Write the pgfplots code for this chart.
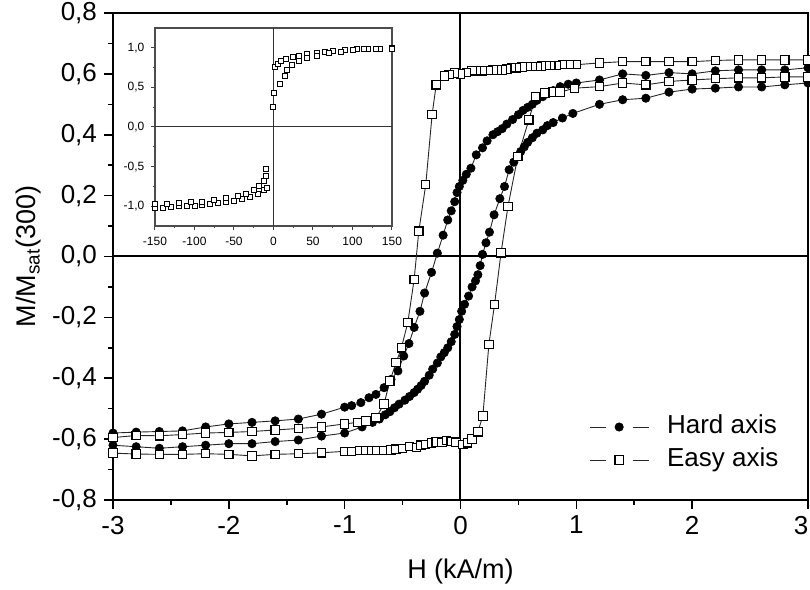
\documentclass[border=0pt]{standalone}
\usepackage{pgfplots}
\pgfplotsset{compat=1.18}
\usepackage{fontspec}
\setmainfont{Liberation Sans}

% Hard axis, field swept from +3 to -3 kA/m
\pgfplotstableread{
H M
3.0 0.620
2.8 0.613
2.6 0.613
2.4 0.613
2.2 0.610
2.0 0.600
1.8 0.604
1.6 0.595
1.4 0.600
1.2 0.580
1.0 0.570
0.93 0.566
0.86 0.558
0.80 0.545
0.75 0.535
0.71 0.525
0.66 0.513
0.62 0.500
0.58 0.490
0.54 0.480
0.50 0.466
0.45 0.450
0.40 0.435
0.36 0.420
0.32 0.410
0.28 0.400
0.23 0.380
0.19 0.357
0.136 0.334
0.09 0.290
0.05 0.270
0.02 0.250
-0.01 0.230
-0.03 0.210
-0.05 0.180
-0.08 0.150
-0.11 0.120
-0.15 0.070
-0.20 0.011
-0.25 -0.052
-0.31 -0.120
-0.35 -0.180
-0.40 -0.233
-0.445 -0.286
-0.49 -0.327
-0.54 -0.376
-0.60 -0.404
-0.66 -0.431
-0.73 -0.453
-0.79 -0.464
-0.86 -0.480
-0.94 -0.490
-1.0 -0.495
-1.2 -0.518
-1.4 -0.534
-1.6 -0.540
-1.8 -0.545
-2.0 -0.550
-2.2 -0.560
-2.4 -0.573
-2.6 -0.575
-2.8 -0.577
-3.0 -0.580
}\harddown

% Hard axis, field swept from -3 to +3 kA/m
\pgfplotstableread{
H M
-3.0 -0.620
-2.8 -0.625
-2.6 -0.630
-2.4 -0.625
-2.2 -0.620
-2.0 -0.615
-1.8 -0.615
-1.6 -0.608
-1.4 -0.603
-1.2 -0.590
-1.0 -0.580
-0.85 -0.560
-0.76 -0.545
-0.70 -0.534
-0.65 -0.520
-0.61 -0.510
-0.57 -0.497
-0.53 -0.485
-0.48 -0.472
-0.44 -0.460
-0.40 -0.447
-0.37 -0.436
-0.34 -0.424
-0.31 -0.410
-0.27 -0.390
-0.24 -0.370
-0.20 -0.350
-0.17 -0.330
-0.14 -0.316
-0.11 -0.300
-0.08 -0.280
-0.05 -0.256
-0.03 -0.230
-0.01 -0.207
0.01 -0.180
0.035 -0.157
0.07 -0.130
0.10 -0.100
0.13 -0.080
0.15 -0.060
0.17 -0.030
0.19 0.007
0.22 0.045
0.25 0.080
0.29 0.137
0.34 0.190
0.38 0.230
0.42 0.285
0.46 0.310
0.49 0.330
0.52 0.345
0.55 0.360
0.58 0.375
0.62 0.390
0.66 0.405
0.71 0.416
0.75 0.430
0.80 0.440
0.88 0.455
0.97 0.470
1.2 0.500
1.4 0.515
1.6 0.520
1.8 0.540
2.0 0.550
2.2 0.553
2.4 0.557
2.6 0.557
2.8 0.564
3.0 0.570
}\hardup

% Easy axis, field swept from +3 to -3 kA/m
\pgfplotstableread{
H M
3.0 0.646
2.8 0.646
2.6 0.646
2.4 0.646
2.2 0.644
2.0 0.640
1.8 0.640
1.6 0.640
1.4 0.640
1.2 0.636
1.0 0.630
0.94 0.630
0.88 0.630
0.83 0.628
0.78 0.628
0.74 0.627
0.70 0.626
0.66 0.625
0.62 0.625
0.58 0.624
0.53 0.623
0.48 0.620
0.44 0.620
0.40 0.616
0.36 0.613
0.32 0.613
0.28 0.613
0.24 0.611
0.19 0.610
0.14 0.610
0.10 0.610
0.05 0.605
0.0 0.600
-0.05 0.603
-0.10 0.598
-0.14 0.593
-0.21 0.564
-0.245 0.466
-0.30 0.236
-0.36 0.083
-0.40 -0.075
-0.455 -0.217
-0.51 -0.300
-0.556 -0.349
-0.61 -0.409
-0.66 -0.485
-0.73 -0.530
-0.815 -0.540
-0.89 -0.545
-1.0 -0.550
-1.2 -0.560
-1.4 -0.565
-1.6 -0.570
-1.8 -0.575
-2.0 -0.578
-2.2 -0.580
-2.4 -0.585
-2.6 -0.589
-2.8 -0.588
-3.0 -0.595
}\easydown

% Easy axis, field swept from -3 to +3 kA/m
\pgfplotstableread{
H M
-3.0 -0.646
-2.8 -0.649
-2.6 -0.650
-2.4 -0.650
-2.2 -0.648
-2.0 -0.650
-1.8 -0.655
-1.6 -0.650
-1.4 -0.648
-1.2 -0.645
-1.0 -0.640
-0.94 -0.640
-0.87 -0.638
-0.82 -0.638
-0.77 -0.638
-0.72 -0.638
-0.66 -0.638
-0.60 -0.636
-0.556 -0.633
-0.50 -0.630
-0.44 -0.625
-0.38 -0.628
-0.34 -0.620
-0.30 -0.617
-0.25 -0.613
-0.21 -0.609
-0.16 -0.610
-0.12 -0.605
-0.08 -0.607
-0.04 -0.610
0.02 -0.617
0.06 -0.612
0.10 -0.600
0.15 -0.576
0.193 -0.524
0.245 -0.289
0.294 -0.157
0.35 0.012
0.41 0.165
0.495 0.329
0.59 0.449
0.65 0.526
0.73 0.537
0.80 0.540
0.86 0.540
0.985 0.553
1.2 0.558
1.4 0.570
1.6 0.564
1.8 0.575
2.0 0.580
2.2 0.584
2.4 0.587
2.6 0.587
2.8 0.590
3.0 0.590
}\easyup

% Inset: wide-field easy-axis loop, four runs of points
\pgfplotstableread{
H M
2 0.76
5 0.80
10 0.84
16 0.86
24 0.88
32 0.90
42 0.92
55 0.94
65 0.95
75 0.96
90 0.97
105 0.98
120 0.99
135 0.99
150 1.00
}\insetA
\pgfplotstableread{
H M
-1 0.25
0 0.43
8 0.54
15 0.65
17 0.72
23 0.78
32 0.84
42 0.87
55 0.90
70 0.93
85 0.95
100 0.97
115 0.98
130 0.99
150 0.99
}\insetB
\pgfplotstableread{
H M
-150 -1.02
-140 -1.02
-130 -1.01
-120 -1.00
-110 -1.00
-100 -0.99
-90 -0.98
-80 -0.97
-70 -0.96
-60 -0.94
-50 -0.93
-40 -0.91
-30 -0.88
-20 -0.84
-12 -0.80
-8 -0.77
}\insetC
\pgfplotstableread{
H M
-150 -0.97
-135 -0.97
-120 -0.96
-105 -0.95
-90 -0.94
-75 -0.92
-60 -0.90
-45 -0.87
-35 -0.84
-25 -0.79
-18 -0.74
-12 -0.68
-10 -0.62
-9 -0.53
}\insetD

\pgfplotsset{
  hardstyle/.style={black!85, line width=0.45pt, mark=*, mark size=2.1pt,
    mark options={solid, fill=black, draw=black, line width=0.3pt}},
  easystyle/.style={black!85, line width=0.45pt, mark=square*, mark size=2.1pt,
    mark options={solid, fill=white, draw=black, line width=0.55pt}},
  insetmarks/.style={only marks, mark=square*, mark size=1.25pt,
    mark options={fill=white, draw=black, line width=0.4pt}},
}

\begin{document}
\begin{tikzpicture}
\useasboundingbox (-56.5pt,-45pt) rectangle (348.5pt,250pt);
\begin{axis}[
  scale only axis, width=347.5pt, height=243.5pt,
  xmin=-3, xmax=3, ymin=-0.8, ymax=0.8,
  xtick={-3,-2,-1,0,1,2},
  extra x ticks={3},
  extra x tick style={xticklabel style={xshift=-3.5pt}},
  ytick={-0.8,-0.6,-0.4,-0.2,0,0.2,0.4,0.6,0.8},
  minor x tick num=1, minor y tick num=1,
  tick pos=left, tick align=outside,
  major tick length=4.5pt, minor tick length=2.5pt,
  every tick/.style={black, line width=0.8pt},
  axis line style={line width=1.2pt},
  /pgf/number format/assume math mode=true,
  ticklabel style={font=\fontsize{13}{15}\selectfont},
  yticklabel style={/pgf/number format/.cd, fixed, fixed zerofill, precision=1, use comma},
  xlabel={H (kA/m)},
  ylabel={M/M\textsubscript{sat}(300)},
  label style={font=\fontsize{13.5}{16}\selectfont},
  xlabel style={at={(axis description cs:0.5,-0.146)}, anchor=center},
  ylabel style={at={(axis description cs:-0.122,0.5)}, anchor=center},
  legend style={at={(axis description cs:0.676,0.116)}, anchor=west,
    draw=none, fill=none, font=\fontsize{13}{15}\selectfont,
    row sep=4.5pt, column sep=9pt,
    nodes={inner sep=0pt, text height=9pt, text depth=3pt}},
  legend cell align=left,
  legend image code/.code={%
    \draw[#1, mark=none] (0pt,0pt) -- (8pt,0pt);
    \draw[#1, mark=none] (21.5pt,0pt) -- (29.5pt,0pt);
    \draw[#1, only marks] plot coordinates {(14.75pt,0pt)};
  },
  clip=false,
]
\draw[line width=1pt] (axis cs:0,-0.8) -- (axis cs:0,0.8);
\draw[line width=1pt] (axis cs:-3,0) -- (axis cs:3,0);
\addplot[hardstyle] table[x=H,y=M] {\harddown};
\addlegendentry{Hard axis}
\addplot[hardstyle, forget plot] table[x=H,y=M] {\hardup};
\addplot[easystyle] table[x=H,y=M] {\easydown};
\addlegendentry{Easy axis}
\addplot[easystyle, forget plot] table[x=H,y=M] {\easyup};
\end{axis}

\begin{axis}[
  at={(21pt,137pt)}, anchor=south west,
  scale only axis, width=118.5pt, height=99pt,
  xmin=-150, xmax=150, ymin=-1.25, ymax=1.25,
  xtick={-150,-100,-50,0,50,100,150},
  ytick={-1,-0.5,0,0.5,1},
  minor x tick num=1, minor y tick num=1,
  tick pos=left, tick align=outside,
  major tick length=1.8pt, minor tick length=1.1pt,
  every tick/.style={black!75, line width=0.5pt},
  axis background/.style={fill=white},
  axis line style={black!70, line width=0.7pt},
  /pgf/number format/assume math mode=true,
  ticklabel style={font=\fontsize{6}{7}\selectfont},
  yticklabel style={/pgf/number format/.cd, fixed, fixed zerofill, precision=1, use comma},
]
\draw[black!80, line width=0.5pt] (axis cs:0,-1.25) -- (axis cs:0,1.25);
\draw[black!80, line width=0.5pt] (axis cs:-150,0) -- (axis cs:150,0);
\addplot[insetmarks] table[x=H,y=M] {\insetA};
\addplot[insetmarks] table[x=H,y=M] {\insetB};
\addplot[insetmarks] table[x=H,y=M] {\insetC};
\addplot[insetmarks] table[x=H,y=M] {\insetD};
\end{axis}
\end{tikzpicture}
\end{document}
